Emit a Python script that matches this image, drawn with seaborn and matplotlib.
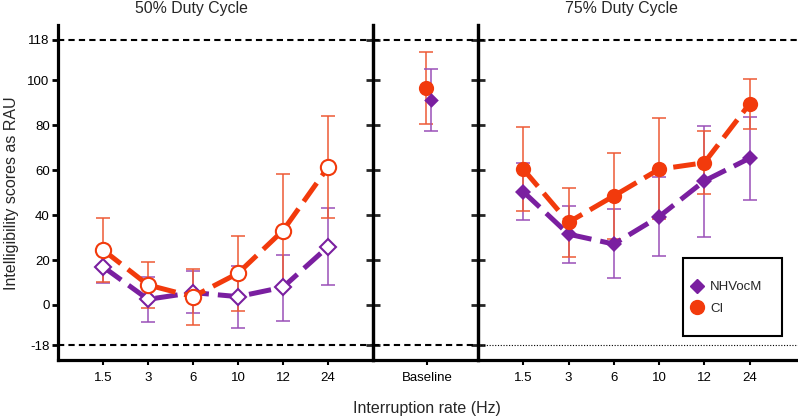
import numpy as np
import pandas as pd
import matplotlib
matplotlib.use("Agg")
import matplotlib.pyplot as plt
import seaborn as sns
from matplotlib.lines import Line2D
from matplotlib.patches import Rectangle

sns.set_theme(style="white")
plt.rcParams['font.family'] = ['Liberation Sans', 'DejaVu Sans']

rates = ["1.5", "3", "6", "10", "12", "24"]

# 50% duty cycle
ci50 = [24.5, 8.9, 3.7, 14.1, 33.1, 61.3]
ci50_lo = [10.0, -1.5, -8.9, -2.5, 8.0, 38.6]
ci50_hi = [38.6, 19.3, 15.9, 30.7, 58.3, 84.3]
nh50 = [17.0, 2.5, 5.5, 3.7, 7.9, 25.9]
nh50_lo = [9.9, -7.4, -3.7, -10.4, -7.0, 8.9]
nh50_hi = [24.8, 12.3, 15.3, 17.4, 22.3, 43.3]

# Baseline
ci_base, ci_base_lo, ci_base_hi = 96.7, 80.6, 112.7
nh_base, nh_base_lo, nh_base_hi = 91.2, 77.6, 104.9

# 75% duty cycle
ci75 = [60.4, 36.8, 48.5, 60.4, 63.3, 89.5]
ci75_lo = [41.8, 21.5, 29.2, 38.1, 49.3, 78.3]
ci75_hi = [79.1, 51.9, 67.8, 83.1, 77.4, 100.6]
nh75 = [50.4, 31.5, 27.1, 39.3, 55.2, 65.3]
nh75_lo = [37.8, 18.6, 11.9, 21.8, 30.1, 46.7]
nh75_hi = [63.1, 44.2, 42.6, 56.8, 79.8, 83.8]

RED = "#F23A0C"
PURPLE = "#7A1FA0"
RED_E = "#EE5A35"
PURPLE_E = "#9A4FB8"

W, H = 798, 418
fig = plt.figure(figsize=(W / 100, H / 100), dpi=100)

def fx(px):
    return px / W

def fy(py):
    return 1 - py / H

bot, top = fy(360), fy(25)
axL = fig.add_axes([fx(58), bot, fx(373 - 58), top - bot])
axM = fig.add_axes([fx(373), bot, fx(478 - 373), top - bot])
axR = fig.add_axes([fx(478), bot, fx(798 - 478), top - bot])

YLIM = (-24.5, 124.6)
pos = np.arange(len(rates))

def draw_panel(ax, ci, ci_lo, ci_hi, nh, nh_lo, nh_hi, open_markers):
    df = pd.DataFrame({
        "x": np.concatenate([pos, pos]),
        "y": list(nh) + list(ci),
        "g": ["NHVocM"] * len(pos) + ["CI"] * len(pos),
    })
    for g, col, ecol, mk, ms, lo, hi, yy in [
        ("NHVocM", PURPLE, PURPLE_E, "D", 8, nh_lo, nh_hi, nh),
        ("CI", RED, RED_E, "o", 11, ci_lo, ci_hi, ci),
    ]:
        yy = np.array(yy)
        ax.errorbar(pos, yy, yerr=[yy - np.array(lo), np.array(hi) - yy],
                    fmt="none", ecolor=ecol, elinewidth=1.1, capsize=5,
                    capthick=1.1, zorder=2)
        sub = df[df.g == g]
        sns.lineplot(data=sub, x="x", y="y", ax=ax, color=col, linewidth=3.6,
                     linestyle=(0, (4.5, 1.8)), marker=mk, markersize=ms,
                     markerfacecolor="white" if open_markers else col,
                     markeredgecolor=col, markeredgewidth=1.5 if open_markers else 0,
                     legend=False, zorder=3)
    ax.set_xlim(-1, 6.07 if ax is axR else 6)
    ax.set_xticks(pos)
    ax.set_xticklabels(rates)

draw_panel(axL, ci50, ci50_lo, ci50_hi, nh50, nh50_lo, nh50_hi, True)
draw_panel(axR, ci75, ci75_lo, ci75_hi, nh75, nh75_lo, nh75_hi, False)

# Baseline panel
axM.errorbar([0.0], [ci_base], yerr=[[ci_base - ci_base_lo], [ci_base_hi - ci_base]],
             fmt="none", ecolor=RED_E, elinewidth=1.1, capsize=5, capthick=1.1)
axM.errorbar([0.1], [nh_base], yerr=[[nh_base - nh_base_lo], [nh_base_hi - nh_base]],
             fmt="none", ecolor=PURPLE_E, elinewidth=1.1, capsize=5, capthick=1.1)
sns.scatterplot(x=[0.0], y=[ci_base], ax=axM, color=RED, marker="o", s=120,
                linewidth=0, zorder=3)
sns.scatterplot(x=[0.1], y=[nh_base], ax=axM, color=PURPLE, marker="D", s=55,
                linewidth=0, zorder=3)
axM.set_xlim(-1, 1)
axM.set_xticks([0.03])
axM.set_xticklabels(["Baseline"])

for ax in (axL, axM, axR):
    ax.set_ylim(*YLIM)
    ax.set_xlabel("")
    ax.set_ylabel("")
    ax.set_facecolor("none")
    ax.tick_params(axis="x", direction="out", length=3.5, width=1.5,
                   labelsize=9.5, pad=5, colors="black", bottom=True)
    for s in ax.spines.values():
        s.set_color("black")
        s.set_linewidth(2.3)
    ax.axhline(118, color="black", lw=1.5, ls=(0, (3, 2)), zorder=1)

axL.axhline(-18, color="black", lw=1.5, ls=(0, (3, 2)), zorder=1)
axM.axhline(-18, color="black", lw=1.5, ls=(0, (3, 2)), zorder=1)
axR.axhline(-18, color="black", lw=0.8, ls=(0, (1, 1.5)), zorder=1)

yt = [-18, 0, 20, 40, 60, 80, 100, 118]
axL.set_yticks(yt)
axL.set_yticklabels([str(v) for v in yt])
axL.tick_params(axis="y", direction="out", length=4, width=2, labelsize=9.5,
                pad=2, left=True, right=False, colors="black")
axL.spines["top"].set_visible(False)

axM.set_yticks(yt)
axM.tick_params(axis="y", direction="inout", length=10, width=2, left=True,
                right=True, labelleft=False)
axM.spines["top"].set_visible(False)

axR.set_yticks([])
axR.spines["top"].set_visible(False)
axR.spines["right"].set_visible(False)

fig.text(fx(191), fy(8), "50% Duty Cycle", ha="center", va="center", fontsize=11.4)
fig.text(fx(621), fy(8), "75% Duty Cycle", ha="center", va="center", fontsize=11.4)
fig.text(fx(12), fy(193), "Intelligibility scores as RAU", rotation=90,
         ha="center", va="center", fontsize=11.5)
fig.text(fx(427), fy(408), "Interruption rate (Hz)", ha="center", va="center",
         fontsize=11.5)

# legend
fig.patches.append(Rectangle((fx(683), fy(336)), fx(782 - 683), fy(258) - fy(336),
                             transform=fig.transFigure, facecolor="white",
                             edgecolor="black", linewidth=1.5, zorder=5))
handles = [
    Line2D([], [], color=PURPLE, marker="D", linestyle="none", markersize=7),
    Line2D([], [], color=RED, marker="o", linestyle="none", markersize=10),
]
leg = fig.legend(handles, ["NHVocM", "CI"], loc="upper left",
                 bbox_to_anchor=(fx(691), fy(281)), borderaxespad=0,
                 fontsize=9.5, frameon=False, handletextpad=0.54,
                 handlelength=0.9, labelspacing=0.7, borderpad=0)
leg.set_zorder(6)

fig.savefig("out.png", dpi=100)
